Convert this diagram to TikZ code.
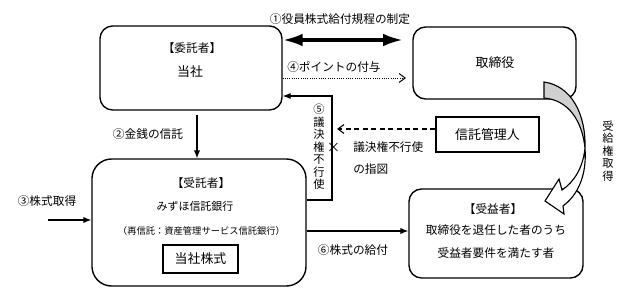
\documentclass[tikz,border=0pt]{standalone}
\usepackage{fontspec}
\setmainfont{Noto Sans CJK JP}
\usepackage{tikz}
\usetikzlibrary{arrows.meta,positioning}
\definecolor{skgray}{RGB}{208,208,208}
\tikzset{
  skbox/.style={draw, line width=1pt, rounded corners=9pt, inner sep=0pt},
  skplain/.style={draw, line width=1pt, inner sep=0pt},
  sklbl/.style={inner sep=0pt, font=\fontsize{8.3}{10}\selectfont},
  skbig/.style={inner sep=0pt, font=\fontsize{9.2}{11}\selectfont},
  sksmall/.style={inner sep=0pt, font=\fontsize{6.6}{8}\selectfont},
  skvert/.style={inner sep=0pt, align=center, font=\fontsize{8}{8.9}\selectfont},
  skarr/.style={-{Latex[length=2mm,width=1.6mm]}, line width=.8pt},
  skarrdot/.style={-{Straight Barb[length=1.5mm,width=2.2mm]}, line width=.7pt, dash pattern=on .7pt off .9pt},
  skarrdash/.style={-{Straight Barb[length=1.5mm,width=2.2mm]}, line width=.8pt, dash pattern=on 3.5pt off 2.5pt},
  skarrthick/.style={{Latex[length=5mm,width=3.2mm]}-{Latex[length=5mm,width=3.2mm]}, line width=2.5pt}
}

\begin{document}
\begin{tikzpicture}[x=0.025cm, y=-0.025cm]
  \useasboundingbox (0,0) rectangle (636,293);
  % boxes
  \node[skbox, minimum width=4.55cm, minimum height=2.1cm] (itaku) at (191,68) {};
  \node[skbox, minimum width=4.075cm, minimum height=1.8cm] (torishimari) at (494.5,63) {};
  \node[skbox, rounded corners=14pt, minimum width=5.35cm, minimum height=3.175cm] (jutaku) at (199,222.5) {};
  \node[skbox, minimum width=4.35cm, minimum height=2.225cm] (jueki) at (496,233.5) {};
  \node[skplain, skbig, minimum width=2.575cm, minimum height=.875cm] (kanri) at (487.5,134.5) {信託管理人};
  \node[skplain, skbig, minimum width=1.875cm, minimum height=.7cm] (kabu) at (200.5,259) {当社株式};
  % box texts
  \node[sklbl] (itakuttl) at (192,48) {【委託者】};
  \node[skbig] (itakuname) at (190,72) {当社};
  \node[skbig] (toriname) at (495,63) {取締役};
  \node[sklbl] (jutakuttl) at (201,183) {【受託者】};
  \node[sklbl, font=\fontsize{7.8}{9}\selectfont] (jutakuname) at (195,206) {みずほ信託銀行};
  \node[sksmall] (saishin) at (201.5,231) {（再信託：資産管理サービス信託銀行）};
  \node[sklbl] (juekittl) at (493,209) {【受益者】};
  \node[sklbl] (juekiname) at (496,230) {取締役を退任した者のうち};
  \node[sklbl] (juekiyoken) at (496,253) {受益者要件を満たす者};
  % labels
  \node[sklbl] (lbl1) at (340,19) {①役員株式給付規程の制定};
  \node[sklbl, anchor=west] (lbl4) at (287,67) {④ポイントの付与};
  \node[sklbl] (lbl2) at (148,134) {②金銭の信託};
  \node[sklbl] (lbl3) at (47,201) {③株式取得};
  \node[sklbl] (lbl6) at (353,250) {⑥株式の給付};
  \node[sklbl, anchor=west] (shizu) at (353,147) {議決権不行使};
  \node[sklbl, anchor=west] (shizu2) at (353,169) {の指図};
  \node[skvert] (lbl5) at (319,147) {⑤\\議\\決\\権\\不\\行\\使};
  \node[skvert] (jukyu) at (608,151) {受\\給\\権\\取\\得};
  \node[sklbl, font=\fontsize{9.5}{10}\selectfont] (batsu) at (333.5,148) {×};
  % connectors
  \coordinate (c1) at (403,40);
  \draw[skarrthick] (itaku.east |- c1) -- (c1);
  \coordinate (c4) at (406,78);
  \draw[skarrdot] (itaku.east |- c4) -- (c4);
  \coordinate (c2) at (197,115);
  \draw[skarr] (c2) -- (c2 |- jutaku.north);
  \coordinate (c3) at (48,220);
  \draw[skarr] (c3) -- (c3 -| jutaku.west);
  \coordinate (c5b) at (332,200);
  \coordinate (c5t) at (332,96);
  \draw[skarr] (jutaku.east |- c5b) -- (c5b) -- (c5t) -- (itaku.east |- c5t);
  \coordinate (c6) at (360,231);
  \draw[skarr] (jutaku.east |- c6) -- (jueki.west |- c6);
  \coordinate (cshizu) at (337,129);
  \draw[skarrdash] (kanri.west |- cshizu) -- (cshizu);
  % curved arrow
  \filldraw[fill=skgray, line width=.8pt] (544,82) .. controls (572,86) and (586,115) .. (585,148)
    .. controls (582,120) and (568,100) .. (544,98) -- cycle;
  \filldraw[fill=white, line width=.8pt] (585,148) .. controls (587,175) and (578,195) .. (563,206)
    -- (564,214) -- (545,201) -- (559,179) -- (562,190)
    .. controls (574,182) and (583,168) .. (585,148) -- cycle;
\end{tikzpicture}
\end{document}
